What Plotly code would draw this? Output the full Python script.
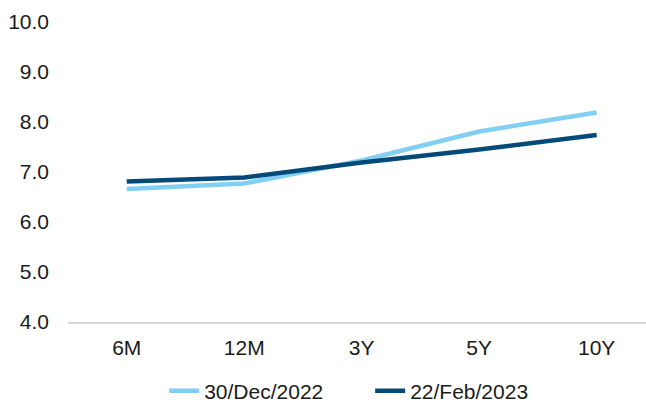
import plotly.graph_objects as go

tenors = ["6M", "12M", "3Y", "5Y", "10Y"]
dec_2022 = [6.66, 6.77, 7.23, 7.81, 8.19]
feb_2023 = [6.81, 6.89, 7.19, 7.45, 7.74]
y_ticks = [4, 5, 6, 7, 8, 9, 10]
y_labels = ["4.0", "5.0", "6.0", "7.0", "8.0", "9.0", "10.0"]

font = dict(family="Liberation Sans, Arial, sans-serif", size=21, color="#1a1a1a")
lfont = dict(family="Liberation Sans, Arial, sans-serif", size=21, color="#1a1a1a")

fig = go.Figure()
fig.add_trace(go.Scatter(x=tenors, y=dec_2022, mode="lines", name="30/Dec/2022",
                         line=dict(color="#83CEF3", width=4.5)))
fig.add_trace(go.Scatter(x=tenors, y=feb_2023, mode="lines", name="22/Feb/2023",
                         line=dict(color="#044A78", width=4.5)))

fig.update_layout(
    width=646, height=406,
    margin=dict(l=68, r=0, t=22, b=84, autoexpand=False),
    paper_bgcolor="white", plot_bgcolor="white",
    font=font,
    showlegend=True,
    legend=dict(orientation="h", xref="container", yref="container",
                x=0.573, xanchor="center", y=0.037, yanchor="middle",
                font=lfont, tracegroupgap=0, bgcolor="rgba(0,0,0,0)",
                entrywidth=161, entrywidthmode="pixels"),
)
fig.update_xaxes(type="category", range=[-0.5, 4.42], showgrid=False,
                 showline=True, linecolor="#d9d9d9", linewidth=1.5,
                 ticks="", ticklabelstandoff=6, tickfont=font, automargin=False)
fig.update_yaxes(range=[4, 10], tickvals=y_ticks, ticktext=y_labels,
                 showgrid=False, zeroline=False, showline=False,
                 ticks="", ticklabelstandoff=18, tickfont=font, automargin=False)

fig.write_html("out.html", config={"displayModeBar": False},
               post_script="document.body.style.margin='0';document.body.style.overflow='hidden';")
